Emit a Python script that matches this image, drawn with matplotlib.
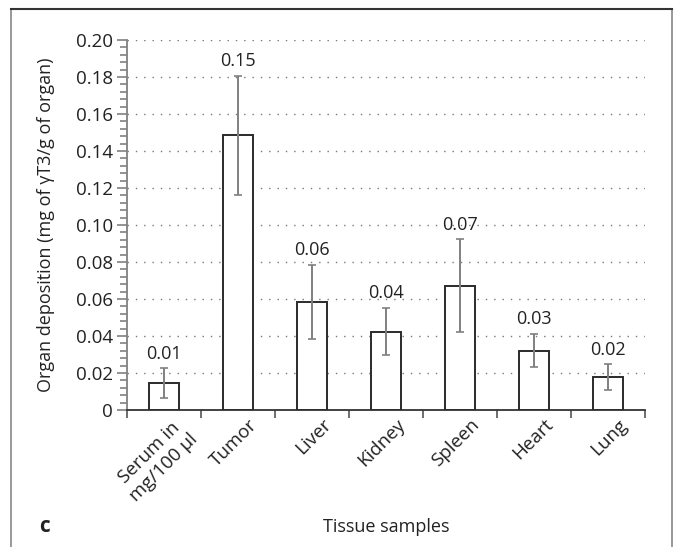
import numpy as np
import matplotlib.pyplot as plt
import matplotlib.transforms as mtransforms
from matplotlib.patches import Rectangle

plt.rcParams['font.family'] = ['Open Sans', 'DejaVu Sans']

tissues = ['Serum in\nmg/100 µl', 'Tumor', 'Liver', 'Kidney', 'Spleen', 'Heart', 'Lung']
means = [0.0146, 0.1486, 0.0583, 0.0424, 0.0672, 0.0321, 0.0178]
errs = [0.0080, 0.0322, 0.0202, 0.0127, 0.0250, 0.0090, 0.0068]
labels = ['0.01', '0.15', '0.06', '0.04', '0.07', '0.03', '0.02']

fig = plt.figure(figsize=(6.74, 5.47), dpi=100)
ax = fig.add_axes([0.1884, 0.2505, 0.957 - 0.1884, 0.9269 - 0.2505])

x = np.arange(len(tissues))
ax.bar(x, means, width=0.4, color='white', edgecolor='#2b2b2b', linewidth=1.4, zorder=3)
ax.errorbar(x, means, yerr=errs, fmt='none', ecolor='#808080', elinewidth=1.4,
            capsize=3, capthick=1.2, zorder=4)

for i in range(len(tissues)):
    ax.text(x[i], means[i] + errs[i] + 0.003, labels[i], ha='center', va='bottom',
            fontsize=13, color='#222222')

ax.set_xlim(-0.5, len(tissues) - 0.5)
ax.set_ylim(0, 0.20)

ax.set_yticks(np.arange(0, 0.201, 0.02))
ax.set_yticklabels(['0'] + [f'{v:.2f}' for v in np.arange(0.02, 0.201, 0.02)])
ax.set_yticks(np.arange(0, 0.2001, 0.004), minor=True)
ax.tick_params(axis='y', which='major', length=7, width=1.2, color='#808080',
               labelsize=13.5, labelcolor='#222222', pad=3)
ax.tick_params(axis='y', which='minor', length=5, width=1.2, color='#808080')

ax.set_xticks(np.arange(-0.5, len(tissues), 1.0))
ax.set_xticklabels([])
ax.set_xticks(x, minor=True)
ax.set_xticklabels(tissues, minor=True, rotation=45, ha='right', va='top',
                   rotation_mode='anchor', multialignment='center')
ax.tick_params(axis='x', which='major', length=6, width=1.2, color='#555555')
ax.tick_params(axis='x', which='minor', length=0, labelsize=13.5,
               labelcolor='#222222', pad=4)
shift = mtransforms.ScaledTranslation(10 / 100, 0, fig.dpi_scale_trans)
for lab in ax.get_xticklabels(minor=True):
    lab.set_transform(lab.get_transform() + shift)

ax.yaxis.grid(True, linestyle=(0, (1, 5)), color='#777777', linewidth=1.0, zorder=0)
ax.set_axisbelow(True)

for s in ['top', 'right']:
    ax.spines[s].set_visible(False)
ax.spines['left'].set_color('#808080')
ax.spines['left'].set_linewidth(1.3)
ax.spines['bottom'].set_color('#333333')
ax.spines['bottom'].set_linewidth(1.3)

ax.set_ylabel('Organ deposition (mg of γT3/g of organ)', fontsize=13, color='#222222')
ax.yaxis.set_label_coords(-0.139, 0.5)

fig.text(386 / 674, 1 - 527 / 547, 'Tissue samples', ha='center', va='center',
         fontsize=13, color='#222222')
fig.text(45 / 674, 1 - 527 / 547, 'c', ha='center', va='center', fontsize=15,
         fontweight='bold', color='#222222')

fig.add_artist(Rectangle((11 / 674, -0.05), (672 - 11) / 674, 1.05 - 9 / 547,
                         transform=fig.transFigure, fill=False,
                         edgecolor='#888888', linewidth=1.2))
fig.add_artist(plt.Line2D([11 / 674, 672 / 674], [1 - 9 / 547, 1 - 9 / 547],
                          transform=fig.transFigure, color='#333333', linewidth=1.5))

fig.savefig('out.png', dpi=100)
